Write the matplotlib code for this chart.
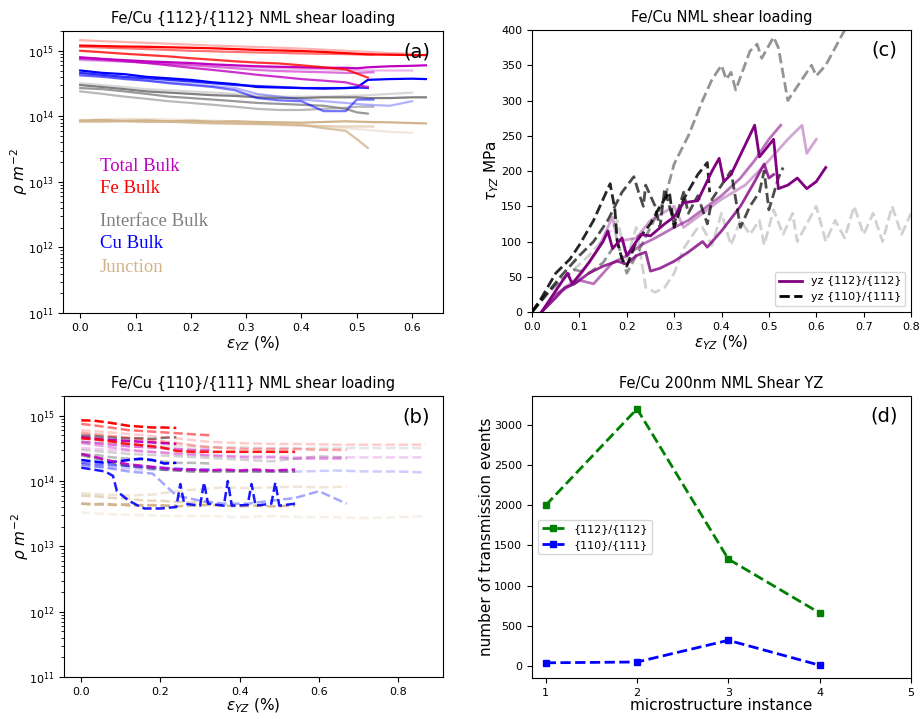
import numpy as np
import matplotlib.pyplot as plt

# ---- (a) {112}/{112} dislocation densities, units of 1e14 m^-2 ----
a_x1 = [0, 0.04, 0.08, 0.12, 0.16, 0.2, 0.24, 0.28, 0.32, 0.36, 0.4, 0.44, 0.48, 0.5, 0.52, 0.56, 0.6, 0.625]
a_x2 = [0, 0.04, 0.08, 0.12, 0.16, 0.2, 0.24, 0.28, 0.32, 0.36, 0.4, 0.44, 0.48, 0.5, 0.52]
a_x3 = [0, 0.04, 0.08, 0.12, 0.16, 0.2, 0.24, 0.28, 0.32, 0.36, 0.4, 0.44, 0.48, 0.5, 0.53]
a_x4 = [0, 0.04, 0.08, 0.12, 0.16, 0.2, 0.24, 0.28, 0.32, 0.36, 0.4, 0.44, 0.48, 0.52, 0.56, 0.6]

a_fe = [
    [12.0, 11.8, 11.6, 11.5, 11.3, 11.1, 10.9, 10.6, 10.3, 10.1, 9.9, 9.6, 9.2, 9.0, 8.8, 8.7, 8.6, 8.6],
    [10.0, 9.5, 9.0, 8.6, 8.2, 7.7, 7.3, 6.9, 6.6, 6.4, 6.0, 5.6, 5.2, 4.5, 3.9],
    [11.5, 11.2, 10.9, 10.6, 10.3, 10.0, 9.8, 9.6, 9.4, 9.3, 9.1, 9.0, 8.9, 8.8, 8.8],
    [14.5, 14.0, 13.6, 13.2, 12.8, 12.4, 12.0, 11.7, 11.4, 11.1, 10.8, 10.4, 10.0, 9.6, 9.2, 9.0],
]
a_tot = [
    [7.8, 7.5, 7.2, 6.9, 6.7, 6.5, 6.2, 6.0, 5.8, 5.7, 5.6, 5.5, 5.5, 5.4, 5.6, 5.8, 5.9, 6.0],
    [8.0, 7.5, 7.0, 6.5, 6.0, 5.5, 5.1, 4.7, 4.3, 4.0, 3.7, 3.5, 3.3, 3.0, 2.8],
    [7.5, 7.2, 6.9, 6.6, 6.3, 6.0, 5.7, 5.4, 5.1, 4.9, 4.8, 4.7, 4.6, 4.6, 4.7],
    [7.2, 7.0, 6.8, 6.6, 6.4, 6.2, 6.0, 5.8, 5.6, 5.4, 5.3, 5.2, 5.1, 5.0, 5.0, 5.0],
]
a_cu = [
    [5.0, 4.6, 4.4, 4.0, 3.8, 3.6, 3.3, 3.1, 2.8, 2.75, 2.7, 2.65, 2.7, 2.75, 3.6, 3.7, 3.75, 3.7],
    [4.6, 4.3, 4.0, 3.8, 3.6, 3.4, 3.2, 3.0, 2.9, 2.8, 2.7, 2.7, 2.7, 2.75, 2.7],
    [4.2, 4.0, 3.7, 3.5, 3.2, 3.0, 2.8, 2.5, 1.9, 1.75, 1.7, 1.2, 1.2, 1.8, 1.8],
    [4.4, 4.1, 3.8, 3.5, 3.3, 3.1, 2.9, 2.7, 2.2, 2.0, 1.8, 1.7, 1.6, 1.5, 1.45, 1.7],
]
a_int = [
    [3.0, 2.8, 2.6, 2.4, 2.3, 2.2, 2.1, 2.05, 1.95, 1.9, 1.9, 1.95, 1.95, 1.95, 1.9, 1.9, 1.95, 1.95],
    [2.7, 2.6, 2.4, 2.2, 2.0, 1.9, 1.8, 1.7, 1.6, 1.55, 1.5, 1.45, 1.3, 1.15, 1.1],
    [2.4, 2.2, 2.0, 1.85, 1.7, 1.6, 1.5, 1.4, 1.3, 1.25, 1.25, 1.3, 1.35, 1.4, 1.4],
    [3.2, 3.0, 2.8, 2.6, 2.5, 2.4, 2.3, 2.2, 2.1, 2.0, 2.0, 2.0, 2.05, 2.1, 2.2, 2.3],
]
a_jn = [
    [0.86, 0.88, 0.85, 0.87, 0.84, 0.86, 0.83, 0.84, 0.82, 0.81, 0.8, 0.82, 0.84, 0.83, 0.82, 0.81, 0.79, 0.78],
    [0.85, 0.83, 0.84, 0.82, 0.83, 0.8, 0.78, 0.77, 0.76, 0.76, 0.74, 0.66, 0.6, 0.45, 0.33],
    [0.82, 0.84, 0.86, 0.85, 0.83, 0.82, 0.8, 0.79, 0.77, 0.74, 0.72, 0.71, 0.7, 0.7, 0.7],
    [0.88, 0.9, 0.92, 0.91, 0.9, 0.88, 0.86, 0.84, 0.8, 0.77, 0.74, 0.7, 0.66, 0.62, 0.58, 0.56],
]
a_xs = [a_x1, a_x2, a_x3, a_x4]
a_alpha = [1.0, 0.8, 0.55, 0.3]

# ---- (b) {110}/{111} dislocation densities ----
b_x1 = [0, 0.03, 0.06, 0.09, 0.12, 0.15, 0.18, 0.21, 0.24]
b_x2 = [0, 0.04, 0.08, 0.12, 0.16, 0.2, 0.24, 0.28, 0.33]
b_x3 = [0, 0.04, 0.08, 0.1, 0.12, 0.16, 0.2, 0.24, 0.28, 0.32, 0.36, 0.4, 0.44, 0.48, 0.54]
b_x3cu = [0, 0.03, 0.06, 0.08, 0.09, 0.12, 0.15, 0.16, 0.2, 0.24, 0.25, 0.26, 0.3, 0.31, 0.32,
          0.36, 0.37, 0.38, 0.42, 0.43, 0.44, 0.48, 0.49, 0.5, 0.54]
b_x4 = [0, 0.06, 0.12, 0.18, 0.24, 0.3, 0.36, 0.42, 0.48, 0.54, 0.6, 0.67]
b_x5 = [0, 0.08, 0.16, 0.24, 0.32, 0.4, 0.48, 0.56, 0.64, 0.72, 0.8, 0.87]

b_fe = [
    [8.5, 8.4, 8.0, 7.5, 7.0, 6.8, 6.6, 6.6, 6.5],
    [7.5, 7.0, 6.5, 6.0, 5.8, 5.6, 5.4, 5.2, 5.0],
    [4.5, 4.3, 4.0, 3.8, 3.7, 3.5, 3.3, 2.9, 2.8, 2.8, 2.8, 2.8, 2.8, 2.8, 2.8],
    [5.5, 5.0, 4.6, 4.2, 3.8, 3.4, 3.2, 3.1, 3.1, 3.1, 3.0, 3.0],
    [6.0, 5.5, 5.0, 4.5, 4.0, 3.8, 3.7, 3.7, 3.6, 3.6, 3.6, 3.6],
]
b_tot = [
    [4.7, 4.5, 4.3, 4.2, 4.1, 4.0, 3.9, 3.8, 3.7],
    [4.0, 3.8, 3.6, 3.4, 3.3, 3.2, 3.1, 3.0, 3.0],
    [2.6, 2.3, 2.0, 1.9, 1.8, 1.7, 1.6, 1.5, 1.5, 1.45, 1.5, 1.45, 1.5, 1.45, 1.5],
    [3.8, 3.4, 3.0, 2.8, 2.6, 2.5, 2.4, 2.3, 2.3, 2.2, 2.2, 2.2],
    [3.2, 3.0, 2.8, 2.7, 2.5, 2.4, 2.4, 2.3, 2.3, 2.3, 2.3, 2.3],
]
b_cu = [
    [2.1, 2.0, 1.9, 2.0, 2.1, 2.2, 2.1, 1.85, 1.9],
    [1.9, 1.8, 1.75, 1.7, 1.65, 1.6, 1.55, 1.5, 1.5],
    [1.6, 1.5, 1.4, 1.2, 0.7, 0.5, 0.4, 0.38, 0.38, 0.4, 0.9, 0.45, 0.42, 0.95, 0.45,
     0.42, 1.0, 0.42, 0.43, 0.9, 0.42, 0.45, 0.95, 0.42, 0.45],
    [1.8, 1.6, 1.4, 1.3, 0.6, 0.5, 0.45, 0.45, 0.5, 0.55, 0.7, 0.45],
    [1.7, 1.6, 1.5, 1.5, 1.45, 1.45, 1.4, 1.4, 1.45, 1.4, 1.4, 1.35],
]
b_int = [
    [5.0, 4.9, 4.7, 4.6, 4.5, 4.5, 4.4, 4.6, 4.7],
    [2.6, 2.5, 2.3, 2.2, 2.1, 2.0, 1.9, 1.9, 1.85],
    [2.5, 2.2, 1.9, 1.8, 1.7, 1.6, 1.5, 1.45, 1.4, 1.4, 1.4, 1.4, 1.4, 1.4, 1.4],
    [3.0, 2.8, 2.6, 2.5, 2.4, 2.3, 2.2, 2.1, 2.0, 2.2, 2.4, 2.3],
    [4.0, 3.8, 3.6, 3.4, 3.3, 3.3, 3.2, 3.2, 3.2, 3.2, 3.2, 3.2],
]
b_jn = [
    [0.45, 0.44, 0.45, 0.43, 0.44, 0.42, 0.43, 0.42, 0.42],
    [0.6, 0.58, 0.55, 0.54, 0.5, 0.5, 0.48, 0.47, 0.48],
    [0.45, 0.44, 0.43, 0.44, 0.42, 0.43, 0.42, 0.41, 0.42, 0.43, 0.42, 0.41, 0.42, 0.41, 0.42],
    [0.65, 0.62, 0.6, 0.62, 0.7, 0.75, 0.8, 0.78, 0.8, 0.82, 0.8, 0.82],
    [0.33, 0.31, 0.3, 0.29, 0.29, 0.28, 0.29, 0.28, 0.28, 0.27, 0.28, 0.29],
]
b_xs = [b_x1, b_x2, b_x3, b_x4, b_x5]
b_alpha = [1.0, 0.55, 0.9, 0.35, 0.2]

# ---- (c) stress-strain, MPa ----
c_p1_x = [0.02, 0.05, 0.075, 0.085, 0.12, 0.15, 0.16, 0.17, 0.19, 0.2, 0.23, 0.25, 0.28, 0.3, 0.32, 0.35,
          0.38, 0.395, 0.405, 0.42, 0.47, 0.48, 0.51, 0.52, 0.54, 0.56, 0.58, 0.6, 0.62]
c_p1_y = [0, 30, 55, 40, 70, 100, 115, 90, 105, 80, 110, 108, 125, 135, 155, 158,
          200, 218, 185, 195, 265, 220, 245, 175, 180, 190, 175, 185, 205]
c_p2_x = [0.02, 0.05, 0.07, 0.09, 0.12, 0.15, 0.18, 0.2, 0.22, 0.24, 0.25, 0.27, 0.3, 0.33, 0.36, 0.37,
          0.4, 0.44, 0.47, 0.49, 0.5, 0.51]
c_p2_y = [0, 20, 35, 40, 55, 65, 72, 68, 80, 85, 58, 62, 72, 85, 100, 92,
          115, 150, 185, 210, 190, 195]
c_p3_x = [0.02, 0.05, 0.1, 0.13, 0.17, 0.2, 0.23, 0.26, 0.3, 0.33, 0.36, 0.4, 0.44, 0.47, 0.5, 0.525]
c_p3_y = [0, 25, 45, 40, 70, 80, 95, 105, 120, 130, 145, 165, 190, 215, 245, 265]
c_p4_x = [0.02, 0.06, 0.1, 0.14, 0.17, 0.18, 0.22, 0.25, 0.3, 0.32, 0.36, 0.4, 0.45, 0.5, 0.54, 0.57, 0.58, 0.6]
c_p4_y = [0, 30, 50, 90, 135, 100, 105, 130, 150, 120, 140, 160, 180, 215, 245, 265, 225, 245]

c_d1_x = [0.0, 0.02, 0.05, 0.08, 0.1, 0.13, 0.16, 0.165, 0.175, 0.18, 0.19, 0.2, 0.22, 0.25, 0.27,
          0.29, 0.3, 0.32, 0.35, 0.37, 0.375]
c_d1_y = [0, 20, 55, 75, 95, 130, 175, 182, 145, 100, 75, 65, 100, 125, 150,
          170, 120, 160, 195, 212, 170]
c_d2_x = [0.0, 0.03, 0.06, 0.1, 0.13, 0.16, 0.19, 0.215, 0.225, 0.235, 0.24, 0.26, 0.27, 0.28, 0.29, 0.3,
          0.32, 0.33, 0.35, 0.37, 0.38, 0.4, 0.42, 0.43, 0.44, 0.46, 0.48, 0.49, 0.5, 0.52, 0.53]
c_d2_y = [0, 25, 50, 80, 100, 130, 170, 192, 170, 150, 180, 150, 120, 175, 150, 125,
          170, 140, 165, 125, 160, 180, 200, 160, 120, 150, 170, 200, 145, 190, 205]
c_d3_x = [0, 0.03, 0.06, 0.09, 0.12, 0.15, 0.18, 0.2, 0.22, 0.25, 0.28, 0.3, 0.33, 0.36, 0.38, 0.4,
          0.41, 0.42, 0.43, 0.46, 0.475, 0.485, 0.51, 0.52, 0.54, 0.57, 0.59, 0.6, 0.62, 0.66]
c_d3_y = [0, 25, 45, 60, 55, 70, 100, 55, 80, 120, 160, 210, 250, 300, 330, 350,
          330, 340, 315, 370, 380, 360, 390, 375, 300, 330, 350, 335, 350, 400]
c_d4_x = [0, 0.04, 0.08, 0.12, 0.16, 0.18, 0.2, 0.22, 0.24, 0.26, 0.28, 0.3, 0.32, 0.35, 0.36, 0.38,
          0.4, 0.42, 0.44, 0.46, 0.48, 0.49, 0.51, 0.53, 0.55, 0.56, 0.58, 0.6, 0.62, 0.64,
          0.66, 0.68, 0.7, 0.72, 0.74, 0.76, 0.78, 0.8]
c_d4_y = [0, 30, 55, 80, 110, 130, 75, 120, 35, 28, 35, 55, 90, 120, 120, 95,
          140, 95, 130, 110, 130, 95, 145, 110, 140, 100, 125, 150, 100, 130,
          105, 150, 110, 140, 100, 150, 110, 140]

# ---- (d) transmission events ----
d_instance = [1, 2, 3, 4]
d_112 = [2000, 3200, 1330, 660]
d_110 = [40, 50, 320, 10]

cat_names = ['Total Bulk', 'Fe Bulk', 'Interface Bulk', 'Cu Bulk', 'Junction']
cat_colors = ['#c000c0', 'red', 'gray', 'blue', 'tan']

fig = plt.figure(figsize=(9.19, 7.15), dpi=100)
axa = fig.add_axes([0.0686, 0.5622, 0.4135, 0.3944])
axc = fig.add_axes([0.5789, 0.5636, 0.4124, 0.3944])
axb = fig.add_axes([0.0697, 0.0531, 0.4124, 0.3930])
axd = fig.add_axes([0.5789, 0.0517, 0.4124, 0.3944])

for ax in [axa, axb, axc, axd]:
    ax.tick_params(labelsize=8)

# (a)
a_sets = [a_tot, a_fe, a_int, a_cu, a_jn]
for k in [4, 2, 3, 0, 1]:
    for i in range(4):
        axa.plot(a_xs[i], np.array(a_sets[k][i]) * 1e14, color=cat_colors[k],
                 alpha=a_alpha[i], lw=1.6)
axa.set_yscale('log')
axa.set_ylim(1e11, 2e15)
axa.set_xlim(-0.031, 0.656)
axa.set_title('Fe/Cu {112}/{112} NML shear loading', fontsize=10.5)
axa.set_ylabel(r'$\rho\ m^{-2}$', fontsize=11, labelpad=-2)
axa.set_xlabel(r'$\epsilon_{YZ}$ (%)', fontsize=11, labelpad=1)
axa.text(0.93, 0.925, '(a)', transform=axa.transAxes, ha='center', va='center', fontsize=14)
label_y = [0.521, 0.443, 0.323, 0.245, 0.163]
for name, col, yy in zip(cat_names, cat_colors, label_y):
    axa.text(0.097, yy, name, color=col, transform=axa.transAxes, va='center',
             fontsize=13.5, family='Liberation Serif')

# (b)
b_sets = [b_tot, b_fe, b_int, b_cu, b_jn]
for k in [4, 2, 3, 0, 1]:
    for i in range(5):
        xs = b_x3cu if (k == 3 and i == 2) else b_xs[i]
        axb.plot(xs, np.array(b_sets[k][i]) * 1e14, '--', color=cat_colors[k],
                 alpha=b_alpha[i], lw=1.8)
axb.set_yscale('log')
axb.set_ylim(1e11, 2e15)
axb.set_xlim(-0.0435, 0.9135)
axb.set_xticks([0.0, 0.2, 0.4, 0.6, 0.8])
axb.set_title('Fe/Cu {110}/{111} NML shear loading', fontsize=10.5)
axb.set_ylabel(r'$\rho\ m^{-2}$', fontsize=11, labelpad=-2)
axb.set_xlabel(r'$\epsilon_{YZ}$ (%)', fontsize=11, labelpad=0)
axb.text(0.93, 0.925, '(b)', transform=axb.transAxes, ha='center', va='center', fontsize=14)

# (c)
axc.plot(c_d4_x, c_d4_y, '--', color='black', alpha=0.18, lw=2)
axc.plot(c_d3_x, c_d3_y, '--', color='black', alpha=0.42, lw=2)
axc.plot(c_p4_x, c_p4_y, color='purple', alpha=0.35, lw=2)
axc.plot(c_p3_x, c_p3_y, color='purple', alpha=0.55, lw=2)
axc.plot(c_p2_x, c_p2_y, color='purple', alpha=0.8, lw=2)
axc.plot(c_d2_x, c_d2_y, '--', color='black', alpha=0.7, lw=2)
axc.plot(c_d1_x, c_d1_y, '--', color='black', alpha=0.85, lw=2)
axc.plot(c_p1_x, c_p1_y, color='purple', lw=2, label='yz {112}/{112}')
axc.plot([], [], '--', color='black', lw=2, label='yz {110}/{111}')
axc.set_xlim(0, 0.8)
axc.set_ylim(0, 400)
axc.set_yticks(np.arange(0, 401, 50))
axc.set_title('Fe/Cu NML shear loading', fontsize=10.5)
axc.set_ylabel(r'$\tau_{YZ}$ MPa', fontsize=11, labelpad=0)
axc.set_xlabel(r'$\epsilon_{YZ}$ (%)', fontsize=11, labelpad=1)
axc.legend(loc='lower right', fontsize=8)
axc.text(0.93, 0.93, '(c)', transform=axc.transAxes, ha='center', va='center', fontsize=14)

# (d)
axd.plot(d_instance, d_112, 's--', color='green', lw=2, ms=5, label='{112}/{112}')
axd.plot(d_instance, d_110, 's--', color='blue', lw=2, ms=5, label='{110}/{111}')
axd.set_xlim(0.85, 5)
axd.set_xticks([1, 2, 3, 4, 5])
axd.set_title('Fe/Cu 200nm NML Shear YZ', fontsize=10.5)
axd.set_xlabel('microstructure instance', fontsize=11, labelpad=0)
axd.set_ylabel('number of transmission events', fontsize=11, labelpad=0)
axd.legend(loc='center left', fontsize=8)
axd.text(0.93, 0.93, '(d)', transform=axd.transAxes, ha='center', va='center', fontsize=14)

plt.savefig('out.png', dpi=100)
